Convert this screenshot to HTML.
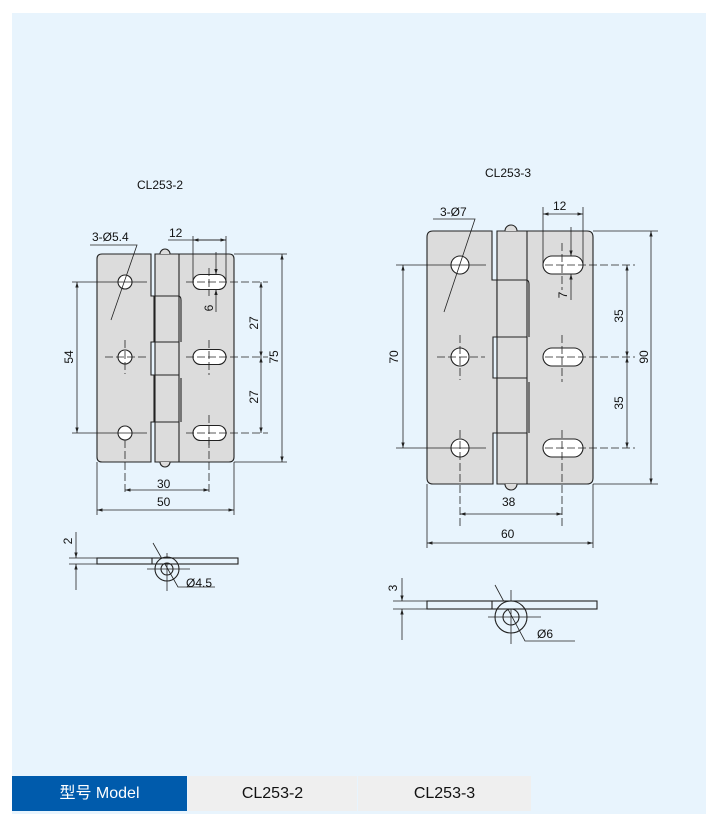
<!DOCTYPE html>
<html><head><meta charset="utf-8"><style>
html,body{margin:0;padding:0;background:#fff;width:713px;height:821px;overflow:hidden}
.bg{position:absolute;left:12px;top:13px;width:694px;height:801px;background:#e8f4fd}
svg{position:absolute;left:0;top:0}
text{font-family:"Liberation Sans",sans-serif;font-size:12px;fill:#111}
.row{position:absolute;top:776px;height:35px;line-height:35px;text-align:center;font-family:"Liberation Sans","Noto Sans CJK SC",sans-serif;font-size:16px}
</style></head><body>
<div class="bg"></div>
<svg width="713" height="821" viewBox="0 0 713 821">
<defs><marker id="a" viewBox="0 0 10 10" refX="10" refY="5" markerWidth="7" markerHeight="7" orient="auto-start-reverse"><path d="M0,2 L10,5 L0,8 z" fill="#222"/></marker></defs>
<g stroke="#222" stroke-width="1.1" fill="none">
<!-- CL253-2 plate -->
<path d="M102,254 H151 V296 H154 V342 H151 V375 H154 V422 H151 V462 H102 Q97,462 97,457 V259 Q97,254 102,254 Z" fill="#dcdcdc"/>
<path d="M155,254 H229 Q234,254 234,259 V457 Q234,462 229,462 H155 Z" fill="#dcdcdc"/>
<path d="M160,254 A5,5 0 0 1 170,254 M160,462 A5,5 0 0 0 170,462" fill="#dcdcdc"/>
<line x1="179" y1="254" x2="179" y2="462"/>
<path d="M155,296 H178 Q181,296 181,300 V342 M151,342 H179 M151,375 H179 M155,422 H179 M181,378 V422"/>
<circle cx="125" cy="282" r="7" fill="#fff"/><circle cx="125" cy="357" r="7" fill="#fff"/><circle cx="125" cy="433" r="7" fill="#fff"/>
<rect x="193" y="274.5" width="33" height="15" rx="7.5" fill="#fff"/>
<rect x="193" y="349.5" width="33" height="15" rx="7.5" fill="#fff"/>
<rect x="193" y="425.5" width="33" height="15" rx="7.5" fill="#fff"/>
</g>
<g stroke="#222" stroke-width="0.8" fill="none">
<line x1="72" y1="282" x2="147" y2="282"/><line x1="72" y1="433" x2="147" y2="433"/>
<line x1="105" y1="357" x2="147" y2="357" stroke-dasharray="8,3"/>
<line x1="125" y1="340" x2="125" y2="374" stroke-dasharray="8,3"/>
<line x1="125" y1="440" x2="125" y2="495" stroke-dasharray="8,3"/>
<line x1="209" y1="440" x2="209" y2="495" stroke-dasharray="8,3"/>
<line x1="209" y1="340" x2="209" y2="375" stroke-dasharray="8,3"/>
<line x1="209" y1="415" x2="209" y2="448" stroke-dasharray="8,3"/>
<line x1="209" y1="268" x2="209" y2="296" stroke-dasharray="8,3"/>
<line x1="186" y1="282" x2="268" y2="282" stroke-dasharray="8,3"/>
<line x1="186" y1="357" x2="268" y2="357" stroke-dasharray="8,3"/>
<line x1="186" y1="433" x2="268" y2="433" stroke-dasharray="8,3"/>
<line x1="234" y1="254" x2="287" y2="254"/><line x1="234" y1="462" x2="287" y2="462"/>
<line x1="97" y1="462" x2="97" y2="515"/><line x1="234" y1="462" x2="234" y2="515"/>
<line x1="193" y1="236" x2="193" y2="282"/><line x1="226" y1="236" x2="226" y2="282"/>
<line x1="77" y1="282" x2="77" y2="433" marker-start="url(#a)" marker-end="url(#a)"/>
<line x1="282" y1="254" x2="282" y2="462" marker-start="url(#a)" marker-end="url(#a)"/>
<line x1="261" y1="282" x2="261" y2="357" marker-start="url(#a)" marker-end="url(#a)"/>
<line x1="261" y1="357" x2="261" y2="433" marker-start="url(#a)" marker-end="url(#a)"/>
<line x1="168" y1="240" x2="226" y2="240"/><line x1="193" y1="240" x2="226" y2="240" marker-start="url(#a)" marker-end="url(#a)"/>
<line x1="216" y1="252" x2="216" y2="274.5" marker-end="url(#a)"/><line x1="216" y1="312" x2="216" y2="289.5" marker-end="url(#a)"/>
<line x1="125" y1="490" x2="209" y2="490" marker-start="url(#a)" marker-end="url(#a)"/>
<line x1="97" y1="510" x2="234" y2="510" marker-start="url(#a)" marker-end="url(#a)"/>
<polyline points="90,245 137,245 111,320"/>
<!-- CL253-3 plate -->
</g>
<g stroke="#222" stroke-width="1.1" fill="none">
<path d="M433,231 H492 V280 H497 V337 H493 V378 H497 V433 H493 V484 H433 Q427,484 427,478 V237 Q427,231 433,231 Z" fill="#dcdcdc"/>
<path d="M497,231 H587 Q593,231 593,237 V478 Q593,484 587,484 H497 Z" fill="#dcdcdc"/>
<path d="M505,231 A6,6 0 0 1 517,231 M505,484 A6,6 0 0 0 517,484" fill="#dcdcdc"/>
<line x1="527" y1="231" x2="527" y2="484"/>
<path d="M497,280 H526 Q529,280 529,284 V337 M493,337 H527 M493,378 H527 M497,433 H527 M529,382 V433"/>
<circle cx="460" cy="265" r="9" fill="#fff"/><circle cx="460" cy="357" r="9" fill="#fff"/><circle cx="460" cy="448" r="9" fill="#fff"/>
<rect x="543" y="256" width="40" height="18" rx="9" fill="#fff"/>
<rect x="543" y="348" width="40" height="18" rx="9" fill="#fff"/>
<rect x="543" y="439" width="40" height="18" rx="9" fill="#fff"/>
</g>
<g stroke="#222" stroke-width="0.8" fill="none">
<line x1="396" y1="265" x2="486" y2="265"/><line x1="396" y1="448" x2="486" y2="448"/>
<line x1="437" y1="357" x2="485" y2="357" stroke-dasharray="8,3"/>
<line x1="460" y1="335" x2="460" y2="380" stroke-dasharray="8,3"/>
<line x1="460" y1="430" x2="460" y2="528" stroke-dasharray="8,3"/>
<line x1="562" y1="430" x2="562" y2="528" stroke-dasharray="8,3"/>
<line x1="562" y1="335" x2="562" y2="382" stroke-dasharray="8,3"/>
<line x1="562" y1="243" x2="562" y2="290" stroke-dasharray="8,3"/>
<line x1="545" y1="265" x2="635" y2="265" stroke-dasharray="8,3"/>
<line x1="545" y1="357" x2="635" y2="357" stroke-dasharray="8,3"/>
<line x1="545" y1="448" x2="635" y2="448" stroke-dasharray="8,3"/>
<line x1="593" y1="231" x2="658" y2="231"/><line x1="593" y1="484" x2="658" y2="484"/>
<line x1="427" y1="484" x2="427" y2="548"/><line x1="593" y1="484" x2="593" y2="548"/>
<line x1="543" y1="207" x2="543" y2="265"/><line x1="583" y1="207" x2="583" y2="265"/>
<line x1="403" y1="265" x2="403" y2="448" marker-start="url(#a)" marker-end="url(#a)"/>
<line x1="651" y1="231" x2="651" y2="484" marker-start="url(#a)" marker-end="url(#a)"/>
<line x1="627" y1="265" x2="627" y2="357" marker-start="url(#a)" marker-end="url(#a)"/>
<line x1="627" y1="357" x2="627" y2="448" marker-start="url(#a)" marker-end="url(#a)"/>
<line x1="543" y1="214" x2="583" y2="214" marker-start="url(#a)" marker-end="url(#a)"/>
<line x1="571" y1="227" x2="571" y2="256" marker-end="url(#a)"/><line x1="571" y1="300" x2="571" y2="274" marker-end="url(#a)"/>
<line x1="460" y1="514" x2="562" y2="514" marker-start="url(#a)" marker-end="url(#a)"/>
<line x1="427" y1="543" x2="593" y2="543" marker-start="url(#a)" marker-end="url(#a)"/>
<polyline points="433,219 475,219 444,312"/>
<!-- side view 2 -->
<line x1="69" y1="558" x2="97" y2="558"/><line x1="69" y1="564" x2="97" y2="564"/>
<line x1="76" y1="532" x2="76" y2="558" marker-end="url(#a)"/><line x1="76" y1="590" x2="76" y2="564" marker-end="url(#a)"/>
<line x1="147" y1="569" x2="190" y2="569"/><line x1="167" y1="553" x2="167" y2="591"/>
<polyline points="153,543 178,587 215,587"/>
<!-- side view 3 -->
<line x1="393" y1="601" x2="427" y2="601"/><line x1="393" y1="609" x2="427" y2="609"/>
<line x1="402" y1="578" x2="402" y2="601" marker-end="url(#a)"/><line x1="402" y1="640" x2="402" y2="609" marker-end="url(#a)"/>
<line x1="488" y1="617" x2="541" y2="617"/><line x1="511" y1="590" x2="511" y2="644"/>
<polyline points="495,585 525,641 575,641"/>
</g>
<g stroke="#222" stroke-width="1.1" fill="none">
<rect x="97" y="558" width="141" height="6" fill="#e8f4fd"/><line x1="152" y1="558" x2="152" y2="564"/>
<circle cx="167" cy="569" r="12"/><circle cx="167" cy="569" r="6"/>
<rect x="427" y="601" width="170" height="8" fill="#e8f4fd"/><line x1="492" y1="601" x2="492" y2="609"/>
<circle cx="511" cy="617" r="16"/><circle cx="511" cy="617" r="8"/>
</g>
<text x="137" y="189">CL253-2</text>
<text x="485" y="177">CL253-3</text>
<text x="92" y="241">3-Ø5.4</text>
<text x="169" y="237">12</text>
<text x="440" y="216">3-Ø7</text>
<text x="553" y="210">12</text>
<text x="157" y="488">30</text>
<text x="157" y="506">50</text>
<text x="502" y="506">38</text>
<text x="501" y="538">60</text>
<text x="186" y="587">Ø4.5</text>
<text x="537" y="638">Ø6</text>
<text transform="translate(73,357) rotate(-90)" text-anchor="middle">54</text>
<text transform="translate(278,357) rotate(-90)" text-anchor="middle">75</text>
<text transform="translate(258,323) rotate(-90)" text-anchor="middle">27</text>
<text transform="translate(258,397) rotate(-90)" text-anchor="middle">27</text>
<text transform="translate(213,308) rotate(-90)" text-anchor="middle">6</text>
<text transform="translate(398,357) rotate(-90)" text-anchor="middle">70</text>
<text transform="translate(648,357) rotate(-90)" text-anchor="middle">90</text>
<text transform="translate(623,316) rotate(-90)" text-anchor="middle">35</text>
<text transform="translate(623,403) rotate(-90)" text-anchor="middle">35</text>
<text transform="translate(567,295) rotate(-90)" text-anchor="middle">7</text>
<text transform="translate(72,541) rotate(-90)" text-anchor="middle">2</text>
<text transform="translate(397,588) rotate(-90)" text-anchor="middle">3</text>
</svg>
<div class="row" style="left:12px;width:175px;background:#005bac;color:#fff">型号 Model</div>
<div class="row" style="left:188px;width:169px;background:#efefef;color:#111">CL253-2</div>
<div class="row" style="left:358px;width:173px;background:#efefef;color:#111">CL253-3</div>
</body></html>
